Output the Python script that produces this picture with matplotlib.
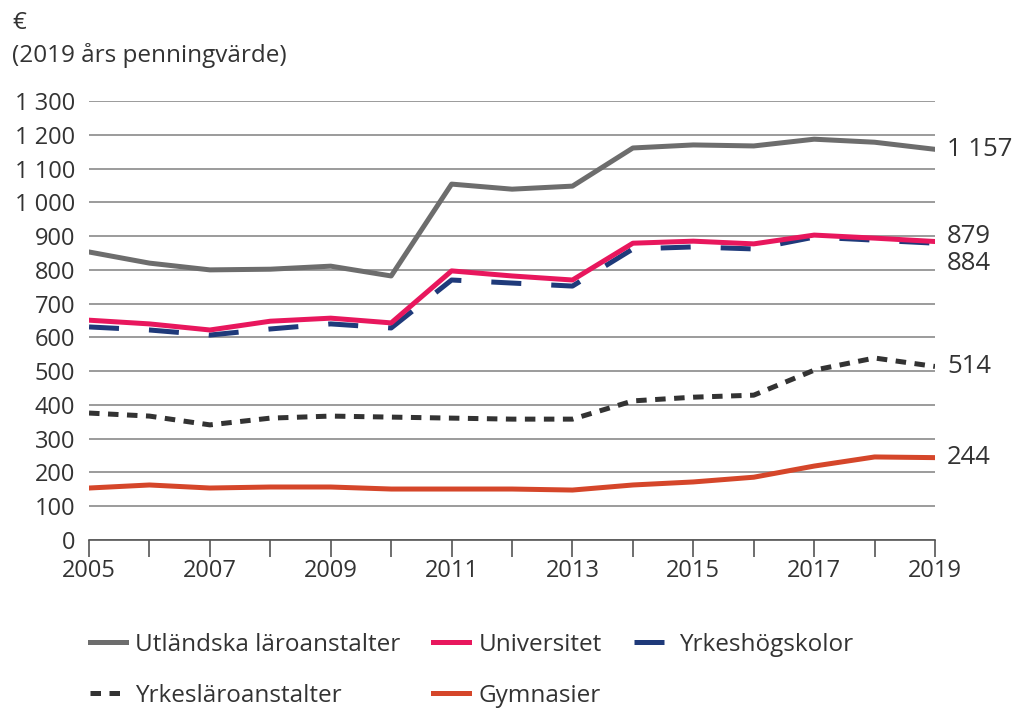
import matplotlib
matplotlib.use('Agg')
import matplotlib.pyplot as plt
from matplotlib.ticker import FuncFormatter

plt.rcParams['font.family'] = ['Open Sans', 'DejaVu Sans']

years = list(range(2005, 2020))
utlandska = [853, 820, 800, 802, 811, 782, 1054, 1039, 1048, 1161, 1170, 1167, 1187, 1178, 1157]
universitet = [651, 640, 622, 648, 657, 643, 797, 782, 770, 879, 885, 877, 903, 894, 884]
yrkeshogskolor = [631, 622, 607, 625, 640, 628, 770, 761, 752, 862, 868, 862, 897, 888, 879]
yrkeslaro = [376, 367, 341, 361, 367, 364, 361, 358, 358, 412, 423, 429, 503, 539, 514]
gymnasier = [154, 163, 154, 157, 157, 151, 151, 151, 148, 163, 172, 186, 219, 246, 244]

end_labels = ['1 157', '879', '884', '514', '244']
end_label_y = [1157, 900, 820, 514, 244]

TXT = '#333333'

fig = plt.figure(figsize=(10.21, 7.13), dpi=100)
ax = fig.add_axes([0.0872, 0.2426, 0.8286, 0.6157])

lw = 3.6
l_utl, = ax.plot(years, utlandska, color='#6d6d6d', lw=lw, label='Utländska läroanstalter', zorder=3)
l_yh, = ax.plot(years, yrkeshogskolor, color='#1f3a7a', lw=lw, dashes=(6, 6), label='Yrkeshögskolor', zorder=3)
l_uni, = ax.plot(years, universitet, color='#e8175d', lw=lw, label='Universitet', zorder=4)
l_yl, = ax.plot(years, yrkeslaro, color='#333333', lw=lw, dashes=(2.1, 1.7), label='Yrkesläroanstalter', zorder=3)
l_gym, = ax.plot(years, gymnasier, color='#d5462a', lw=lw, label='Gymnasier', zorder=3)

ax.set_xlim(2005, 2019)
ax.set_ylim(0, 1300)
ax.set_yticks(range(0, 1301, 100))
ax.yaxis.set_major_formatter(FuncFormatter(lambda v, p: f'{int(v):,}'.replace(',', ' ')))
ax.set_xticks(years)
ax.set_xticklabels([str(y) if y % 2 == 1 else '' for y in years])
ax.grid(axis='y', color='#8a8a8a', lw=1.2, zorder=1)
for s in ['top', 'right', 'left']:
    ax.spines[s].set_visible(False)
ax.spines['bottom'].set_color('#555555')
ax.spines['bottom'].set_linewidth(1.2)
ax.tick_params(axis='y', length=0, pad=10, labelsize=17, labelcolor=TXT)
ax.tick_params(axis='x', length=12, width=1.2, color='#555555', pad=2, labelsize=17, labelcolor=TXT)

for lab, yv in zip(end_labels, end_label_y):
    ax.text(2019.2, yv, lab, fontsize=18.5, color=TXT, va='center', ha='left', clip_on=False)

fig.text(0.012, 0.985, '€', fontsize=17.5, color=TXT, va='top')
fig.text(0.012, 0.94, '(2019 års penningvärde)', fontsize=17.5, color=TXT, va='top')

# legend: two rows, column-major order
handles = [l_utl, l_yl, l_uni, l_gym, l_yh]
fig.legend(handles, [h.get_label() for h in handles], ncol=3, loc='upper left',
           bbox_to_anchor=(0.067, 0.143), frameon=False, fontsize=17.5,
           labelcolor=TXT, handlelength=1.45, handletextpad=0.4,
           columnspacing=1.35, labelspacing=1.1)

fig.savefig('out.png', dpi=100)
